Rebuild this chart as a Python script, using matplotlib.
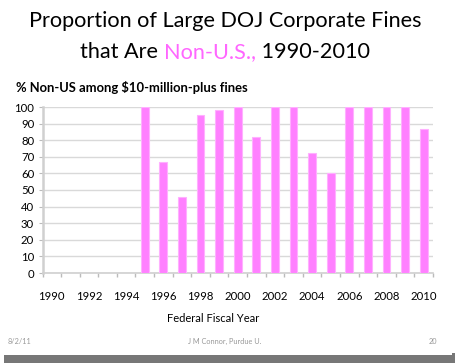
import numpy as np
import matplotlib.pyplot as plt
from matplotlib.patches import Rectangle

# data
years = list(range(1990, 2011))
pct_non_us = [np.nan, np.nan, np.nan, np.nan, np.nan,
              100, 67, 46, 95, 98, 100, 82, 100, 100, 72, 60.5,
              100, 100, 100, 100, 87]
tick_years = years[::2]

pink = '#FF80FF'
font = 'Lato'

fig = plt.figure(figsize=(4.59, 3.63), dpi=100)
W, H = 459, 363

# slide frame with shadow on right / bottom
fig.patches.append(Rectangle((0, 0), 1, 1, transform=fig.transFigure,
                             facecolor='white', edgecolor='none', zorder=-5))
fig.patches.append(Rectangle((4 / W, 0), 451 / W, 1 - 355 / H + 2 / H,
                             transform=fig.transFigure, facecolor='#555555',
                             edgecolor='none', zorder=-4, alpha=0.8))
fig.patches.append(Rectangle((0, 1 - 355 / H), 452 / W, 355 / H,
                             transform=fig.transFigure, facecolor='white',
                             edgecolor='none', zorder=-3))

ax = fig.add_axes([42.5 / W, 1 - 273 / H, (433 - 42.5) / W, (273 - 107) / H])
x = np.arange(len(years))
ax.bar(x, pct_non_us, width=0.42, color=pink, edgecolor='#FFB0FF',
       linewidth=0.8, zorder=3)

ax.set_xlim(-0.5, len(years) - 0.5)
ax.set_ylim(0, 100)
ax.set_yticks(range(0, 101, 10))
ax.yaxis.grid(True, color='#D9D9D9', linewidth=1.0, zorder=0)
ax.set_xticks([years.index(y) for y in tick_years])
ax.set_xticklabels([str(y) for y in tick_years])
ax.set_xticks(np.arange(-0.5, len(years), 1), minor=True)
ax.tick_params(axis='x', which='major', length=0, pad=13, labelsize=8.2)
ax.tick_params(axis='x', which='minor', length=3, color='#BBBBBB', width=1)
ax.tick_params(axis='y', length=3, color='#BBBBBB', labelsize=8.2, pad=3)
for lab in ax.get_xticklabels() + ax.get_yticklabels():
    lab.set_fontfamily(font)
for s in ['top', 'right']:
    ax.spines[s].set_visible(False)
ax.spines['left'].set_color('#D0D0D0')
ax.spines['left'].set_linewidth(1.8)
ax.spines['bottom'].set_color('#D0D0D0')
ax.spines['bottom'].set_linewidth(1.2)

# titles
fig.text(225 / W, 1 - 21 / H, 'Proportion of Large DOJ Corporate Fines',
         ha='center', va='center', fontsize=15.6, family=font)
r = fig.canvas.get_renderer()
parts = [('that Are ', 'black'), ('Non-U.S.,', '#FF66FF'), (' 1990-2010', 'black')]
texts = []
for s, c in parts:
    texts.append(fig.text(0, 1 - 52 / H, s, ha='left', va='center',
                          fontsize=15.6, family=font, color=c))
widths = [t.get_window_extent(r).width for t in texts]
x0 = 225 - sum(widths) / 2
for t, w in zip(texts, widths):
    t.set_x(x0 / W)
    x0 += w

fig.text(16 / W, 1 - 88 / H, '% Non-US among $10-million-plus fines',
         ha='left', va='center', fontsize=9.4, fontweight='bold', family=font)
fig.text(213 / W, 1 - 318 / H, 'Federal Fiscal Year', ha='center',
         va='center', fontsize=8, family=font)

# footer
fig.text(8 / W, 1 - 341 / H, '8/2/11', ha='left', va='center',
         fontsize=5.3, color='#999999', family=font)
fig.text(225 / W, 1 - 341 / H, 'J M Connor, Purdue U.', ha='center',
         va='center', fontsize=5.3, color='#999999', family=font)
fig.text(437 / W, 1 - 341 / H, '20', ha='right', va='center',
         fontsize=5.3, color='#999999', family=font)

fig.savefig('out.png', dpi=100)
